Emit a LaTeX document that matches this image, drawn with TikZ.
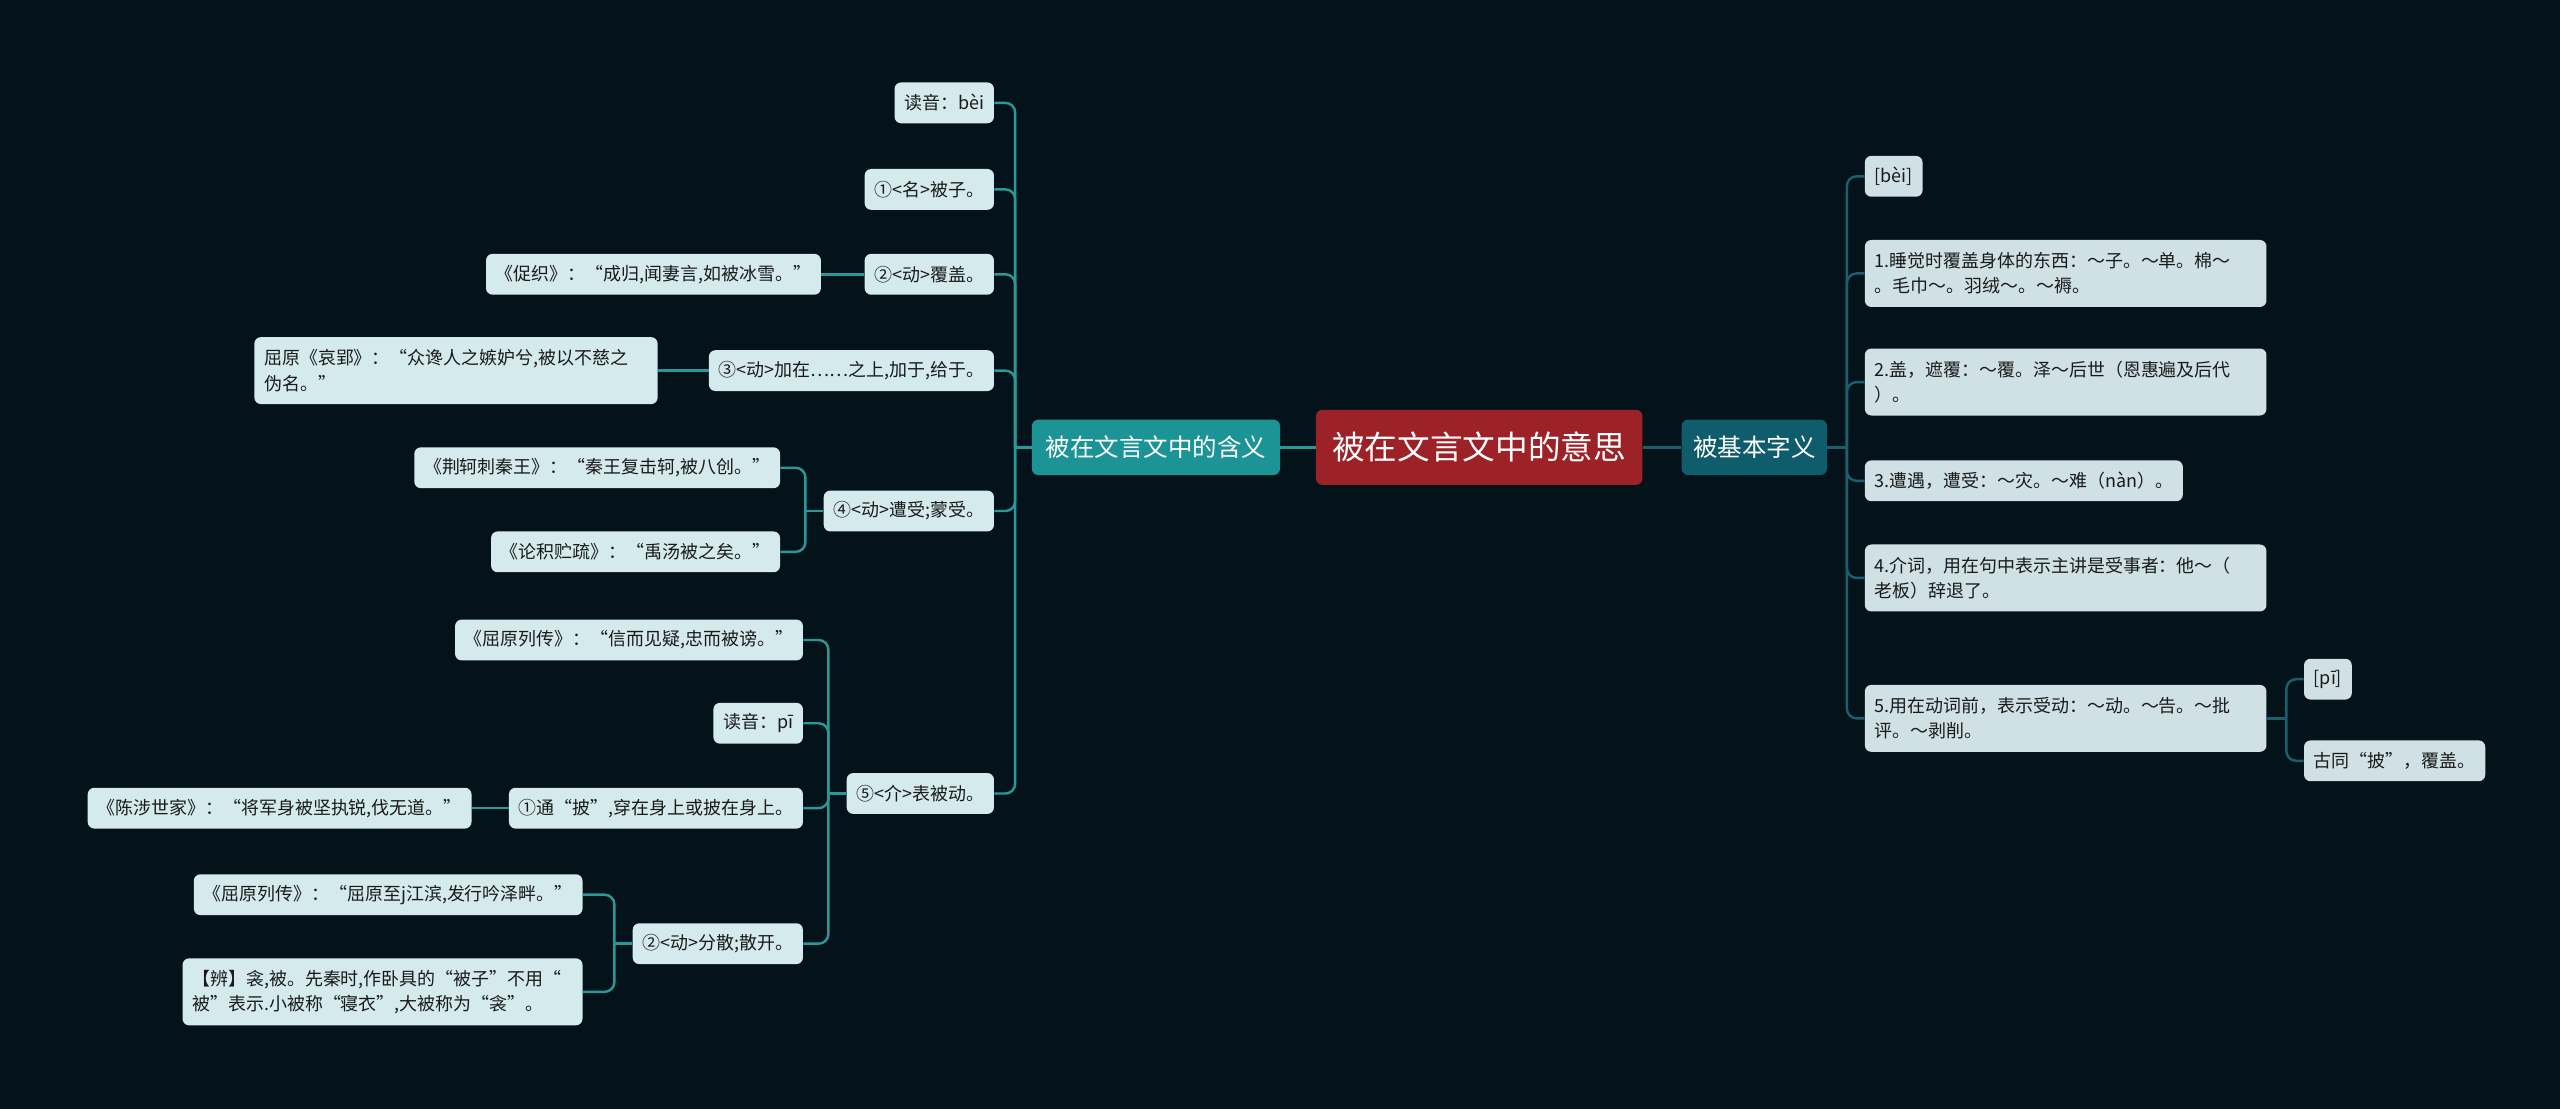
\documentclass[tikz,border=0pt]{standalone}
\usepackage{fontspec}
\setmainfont{Noto Sans CJK SC}
\usetikzlibrary{positioning}
\definecolor{bgcol}{HTML}{04121A}
\definecolor{leafcol}{HTML}{D4EAEC}
\definecolor{rleafcol}{HTML}{CFE1E5}
\definecolor{inkcol}{HTML}{1A1A1A}
\definecolor{lmaincol}{HTML}{1C9496}
\definecolor{rmaincol}{HTML}{0E5C6C}
\definecolor{centercol}{HTML}{9C2228}
\definecolor{lline}{HTML}{2A9799}
\definecolor{rline}{HTML}{1B5E70}

\begin{document}
\begin{tikzpicture}[x=1pt, y=-1pt,
	leaf/.style={fill=leafcol, text=inkcol, rounded corners=4pt, inner xsep=6pt, inner ysep=0pt, minimum height=25pt, font=\fontsize{11}{15.5}\selectfont},
	rleaf/.style={leaf, fill=rleafcol},
	twoline/.style={align=left, text width=#1, minimum height=41pt},
	branch/.style={text=white, rounded corners=4pt, minimum height=34pt, font=\fontsize{15}{18}\selectfont},
	lwire/.style={draw=lline, line width=1.5pt, rounded corners=6pt},
	rwire/.style={draw=rline, line width=1.5pt, rounded corners=6pt}]
	\useasboundingbox[fill=bgcol] (0,0) rectangle (1568,679);

	% centre and main branches
	\node[fill=centercol, text=white, rounded corners=4pt, minimum width=200pt, minimum height=46pt, font=\fontsize{20}{24}\selectfont] (root) at (906,274) {被在文言文中的意思};
	\node[branch, fill=lmaincol, minimum width=152pt] (lmain) at (708,274) {被在文言文中的含义};
	\node[branch, fill=rmaincol, minimum width=89pt] (rmain) at (1074.5,274) {被基本字义};
	\draw[lwire] (root) -- (lmain);
	\draw[rwire] (root) -- (rmain);

	% left side
	\node[leaf, anchor=east] (la) at (609,63) {读音：bèi};
	\node[leaf, anchor=east] (lb) at (609,116) {①<名>被子。};
	\node[leaf, anchor=east] (lc) at (609,168) {②<动>覆盖。};
	\node[leaf, anchor=east] (ld) at (609,227) {③<动>加在……之上,加于,给于。};
	\node[leaf, anchor=east] (le) at (609,313) {④<动>遭受;蒙受。};
	\node[leaf, anchor=east] (lf) at (609,486) {⑤<介>表被动。};
	\coordinate (lt) at ([xshift=-10pt]lmain.west);
	\draw[lwire] (lmain) -- (lt);
	\foreach \n in {la,lb,lc,ld,le,lf}
		\draw[lwire] (\n.east) -| (lt);

	\node[leaf, anchor=east] (lc1) at (503,168) {《促织》：“成归,闻妻言,如被冰雪。”};
	\draw[lwire] (lc1) -- (lc);
	\node[leaf, twoline=235pt, anchor=east] (ld1) at (403,227) {屈原《哀郢》：“众谗人之嫉妒兮,被以不慈之\\伪名。”};
	\draw[lwire] (ld1) -- (ld);

	\node[leaf, anchor=east] (le1) at (478,286.5) {《荆轲刺秦王》：“秦王复击轲,被八创。”};
	\node[leaf, anchor=east] (le2) at (478,338) {《论积贮疏》：“禹汤被之矣。”};
	\coordinate (let) at ([xshift=-11pt]le.west);
	\draw[lwire] (le) -- (let);
	\foreach \n in {le1,le2}
		\draw[lwire] (\n.east) -| (let);

	\node[leaf, anchor=east] (lf1) at (492,392) {《屈原列传》：“信而见疑,忠而被谤。”};
	\node[leaf, anchor=east] (lf2) at (492,443) {读音：pī};
	\node[leaf, anchor=east] (lf3) at (492,495) {①通“披”,穿在身上或披在身上。};
	\node[leaf, anchor=east] (lf4) at (492,578) {②<动>分散;散开。};
	\coordinate (lft) at ([xshift=-11pt]lf.west);
	\draw[lwire] (lf) -- (lft);
	\foreach \n in {lf1,lf2,lf3,lf4}
		\draw[lwire] (\n.east) -| (lft);

	\node[leaf, anchor=east] (lf3a) at (289,495) {《陈涉世家》：“将军身被坚执锐,伐无道。”};
	\draw[lwire] (lf3a) -- (lf3);

	\node[leaf, anchor=east] (lf4a) at (357,548) {《屈原列传》：“屈原至j江滨,发行吟泽畔。”};
	\node[leaf, twoline=233pt, anchor=east] (lf4b) at (357,607.5) {【辨】衾,被。先秦时,作卧具的“被子”不用“\\被”表示.小被称“寝衣”,大被称为“衾”。};
	\coordinate (lf4t) at ([xshift=-11pt]lf4.west);
	\draw[lwire] (lf4) -- (lf4t);
	\foreach \n in {lf4a,lf4b}
		\draw[lwire] (\n.east) -| (lf4t);

	% right side
	\node[rleaf, anchor=west] (r0) at (1142,108) {[bèi]};
	\node[rleaf, twoline=234pt, anchor=west] (r1) at (1142,167.5) {1.睡觉时覆盖身体的东西：～子。～单。棉～\\。毛巾～。羽绒～。～褥。};
	\node[rleaf, twoline=234pt, anchor=west] (r2) at (1142,234) {2.盖，遮覆：～覆。泽～后世（恩惠遍及后代\\）。};
	\node[rleaf, anchor=west] (r3) at (1142,294.5) {3.遭遇，遭受：～灾。～难（nàn）。};
	\node[rleaf, twoline=234pt, anchor=west] (r4) at (1142,354) {4.介词，用在句中表示主讲是受事者：他～（\\老板）辞退了。};
	\node[rleaf, twoline=234pt, anchor=west] (r5) at (1142,440) {5.用在动词前，表示受动：～动。～告。～批\\评。～剥削。};
	\coordinate (rt) at ([xshift=12pt]rmain.east);
	\draw[rwire] (rmain) -- (rt);
	\foreach \n in {r0,r1,r2,r3,r4,r5}
		\draw[rwire] (\n.west) -| (rt);

	\node[rleaf, anchor=west] (r5a) at (1411,416) {[pī]};
	\node[rleaf, anchor=west] (r5b) at (1411,466) {古同“披”，覆盖。};
	\coordinate (r5t) at ([xshift=12pt]r5.east);
	\draw[rwire] (r5) -- (r5t);
	\foreach \n in {r5a,r5b}
		\draw[rwire] (\n.west) -| (r5t);
\end{tikzpicture}
\end{document}
